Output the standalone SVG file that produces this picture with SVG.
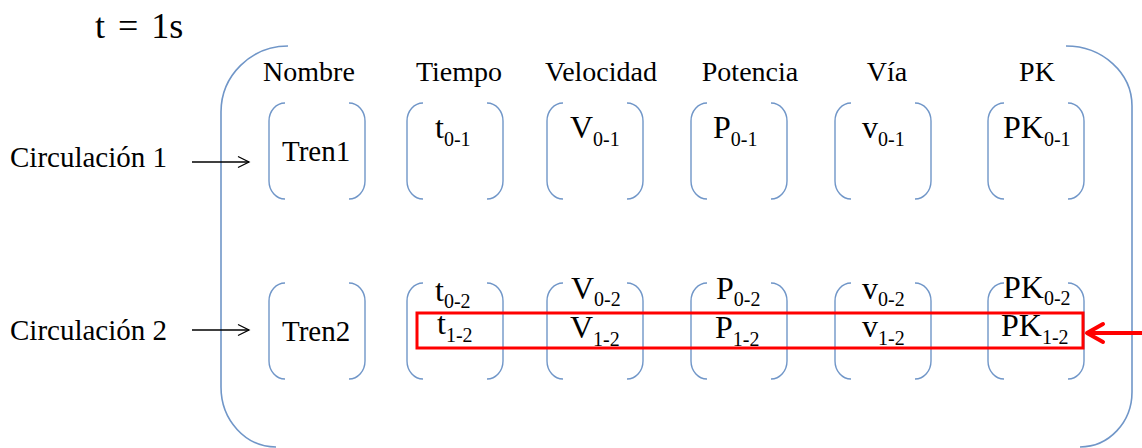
<svg xmlns="http://www.w3.org/2000/svg" xmlns:xlink="http://www.w3.org/1999/xlink" width="1142" height="448" viewBox="0 0 1142 448" font-family="'Liberation Serif', 'DejaVu Serif', 'Times New Roman', serif">
<style>
text{font-family:'Liberation Serif','DejaVu Serif','Times New Roman',serif;fill:#000}
.h{font-size:28px;text-anchor:middle}
.v{font-size:32px}
.s{font-size:20px}
.c{font-size:29px}
.br{fill:none;stroke:#7096c8;stroke-width:1.4}
.big{fill:none;stroke:#7096c8;stroke-width:1.6}
.blk{fill:none;stroke:#000;stroke-width:1.3}
.red{fill:none;stroke:#ff0000;stroke-width:3}
</style>
<defs>
<g id="brk">
<path class="br" d="M16,0 A16,18 0 0 0 0,18 V78 A16,18 0 0 0 16,96"/>
<path class="br" d="M80,0 A16,18 0 0 1 96,18 V78 A16,18 0 0 1 80,96"/>
</g>
<marker id="ab" markerUnits="userSpaceOnUse" markerWidth="14" markerHeight="14" refX="12" refY="7" orient="auto">
<path d="M1,1.5 L12,7 L1,12.5" fill="none" stroke="#000" stroke-width="1.3"/>
</marker>
<marker id="ar" markerUnits="userSpaceOnUse" markerWidth="24" markerHeight="24" refX="20" refY="12" orient="auto">
<path d="M4,3 L20,12 L4,21" fill="none" stroke="#ff0000" stroke-width="4" stroke-linecap="round" stroke-linejoin="round"/>
</marker>
</defs>
<rect width="1142" height="448" fill="#fff"/>
<g id="title"><text x="95" y="38" font-size="36" word-spacing="4">t = 1s</text></g>
<g id="frame">
<path class="big" d="M288,46 A67,66 0 0 0 221,112 V387 A55,60 0 0 0 276,447"/>
<path class="big" d="M1066,46 A66,60 0 0 1 1132,106 V392 A52,55 0 0 1 1080,447"/>
</g>
<g id="headers">
<text class="h" x="309" y="81">Nombre</text>
<text class="h" x="459" y="81">Tiempo</text>
<text class="h" x="601" y="81">Velocidad</text>
<text class="h" x="750" y="81">Potencia</text>
<text class="h" x="887" y="81">Vía</text>
<text class="h" x="1037" y="81">PK</text>
</g>
<g id="circ1"><text class="c" x="10" y="167">Circulación 1</text></g>
<g id="circ2"><text class="c" x="10" y="340">Circulación 2</text></g>
<g id="nombre1"><use xlink:href="#brk" x="269" y="103"/><text class="c" x="282" y="161">Tren1</text></g>
<g id="tiempo1"><use xlink:href="#brk" x="407" y="103"/><text class="v" x="435" y="138">t<tspan class="s" dy="8">0-1</tspan></text></g>
<g id="velocidad1"><use xlink:href="#brk" x="547" y="103"/><text class="v" x="570" y="138">V<tspan class="s" dy="8">0-1</tspan></text></g>
<g id="potencia1"><use xlink:href="#brk" x="691" y="103"/><text class="v" x="713" y="138">P<tspan class="s" dy="8">0-1</tspan></text></g>
<g id="via1"><use xlink:href="#brk" x="835" y="103"/><text class="v" x="862" y="138">v<tspan class="s" dy="8">0-1</tspan></text></g>
<g id="pk1"><use xlink:href="#brk" x="988" y="103"/><text class="v" x="1003" y="138">PK<tspan class="s" dy="8">0-1</tspan></text></g>
<g id="nombre2"><use xlink:href="#brk" x="269" y="283"/><text class="c" x="282" y="341">Tren2</text></g>
<g id="tiempo2"><use xlink:href="#brk" x="407" y="283"/>
<text class="v" x="435" y="301">t<tspan class="s" dy="7">0-2</tspan></text>
<text class="v" x="437" y="334">t<tspan class="s" dy="8">1-2</tspan></text></g>
<g id="velocidad2"><use xlink:href="#brk" x="547" y="283"/>
<text class="v" x="571" y="299">V<tspan class="s" dy="7">0-2</tspan></text>
<text class="v" x="570" y="338">V<tspan class="s" dy="8">1-2</tspan></text></g>
<g id="potencia2"><use xlink:href="#brk" x="691" y="283"/>
<text class="v" x="716" y="299">P<tspan class="s" dy="7">0-2</tspan></text>
<text class="v" x="715" y="338">P<tspan class="s" dy="8">1-2</tspan></text></g>
<g id="via2"><use xlink:href="#brk" x="835" y="283"/>
<text class="v" x="862" y="299">v<tspan class="s" dy="7">0-2</tspan></text>
<text class="v" x="862" y="337">v<tspan class="s" dy="8">1-2</tspan></text></g>
<g id="pk2"><use xlink:href="#brk" x="988" y="283"/>
<text class="v" x="1003" y="298">PK<tspan class="s" dy="7">0-2</tspan></text>
<text class="v" x="1001" y="336">PK<tspan class="s" dy="8">1-2</tspan></text></g>
<g id="highlight"><rect class="red" x="417" y="313" width="666" height="35"/></g>
<g id="connectors">
<line class="blk" x1="192" y1="162" x2="249" y2="162" marker-end="url(#ab)"/>
<line class="blk" x1="192" y1="330" x2="249" y2="330" marker-end="url(#ab)"/>
<line x1="1142" y1="333" x2="1087" y2="333" stroke="#ff0000" stroke-width="4" marker-end="url(#ar)"/>
</g>
</svg>
